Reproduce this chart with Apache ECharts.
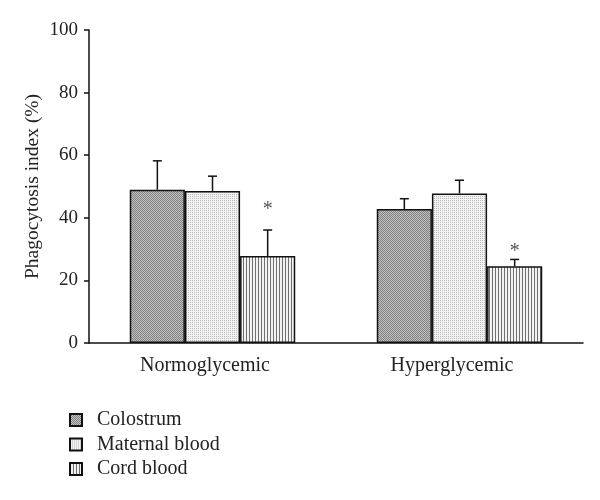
<!DOCTYPE html>
<html><head><meta charset="utf-8">
<script src="https://cdn.jsdelivr.net/npm/echarts@6/dist/echarts.min.js"></script>
<style>html,body{margin:0;padding:0;background:#fff}#c{width:600px;height:500px}</style>
</head><body><div id="c"></div>
<script>
var categories = ['Normoglycemic', 'Hyperglycemic'];
var seriesNames = ['Colostrum', 'Maternal blood', 'Cord blood'];
var colostrum = [49.0, 42.8];
var maternal = [48.6, 47.8];
var cord = [27.8, 24.5];
var colostrumErr = [9.2, 3.3];
var maternalErr = [4.7, 4.2];
var cordErr = [8.3, 2.2];
var cordStars = ['*', '*'];
var cordStarY = [43.8, 30.4];
var yTicks = [0, 20, 40, 60, 80, 100];

function makePattern(kind) {
  var c = document.createElement('canvas');
  var ctx = c.getContext('2d');
  if (kind === 0) {
    c.width = 2; c.height = 2;
    ctx.fillStyle = '#c2c2c2'; ctx.fillRect(0, 0, 2, 2);
    ctx.fillStyle = '#808080';
    ctx.fillRect(0, 0, 1, 1); ctx.fillRect(1, 1, 1, 1);
  } else if (kind === 1) {
    c.width = 2; c.height = 2;
    ctx.fillStyle = '#f3f3f3'; ctx.fillRect(0, 0, 2, 2);
    ctx.fillStyle = '#b8b8b8';
    ctx.fillRect(0, 0, 1, 1);
  } else {
    c.width = 3; c.height = 3;
    ctx.fillStyle = '#f2f2f2'; ctx.fillRect(0, 0, 3, 3);
    ctx.fillStyle = '#707070'; ctx.fillRect(0, 0, 1, 3);
  }
  return { image: c, repeat: 'repeat' };
}

var FONT = 'Liberation Serif';
var chart = echarts.init(document.getElementById('c'), null, { renderer: 'canvas' });
var values = [colostrum, maternal, cord];
var errs = [colostrumErr, maternalErr, cordErr];
var GAP = 0.33;

function errSeries(idx) {
  return {
    type: 'custom',
    name: seriesNames[idx] + ' err',
    silent: true,
    z: 5,
    data: values[idx].map(function (v, i) { return [i, v, v + errs[idx][i], idx === 2 ? cordStarY[i] : 0]; }),
    renderItem: function (params, api) {
      var band = api.size([1, 0])[0];
      var bw = band * (1 - GAP) / 3;
      var base = api.coord([api.value(0), api.value(1)]);
      var top = api.coord([api.value(0), api.value(2)]);
      var x = base[0] + (idx - 1) * bw;
      var children = [
        { type: 'line', shape: { x1: x, y1: base[1], x2: x, y2: top[1] }, style: { stroke: '#111', lineWidth: 1.5 } },
        { type: 'line', shape: { x1: x - 4.5, y1: top[1], x2: x + 4.5, y2: top[1] }, style: { stroke: '#111', lineWidth: 1.5 } }
      ];
      if (idx === 2 && cordStars[params.dataIndex]) {
        var sp = api.coord([api.value(0), api.value(3)]);
        children.push({ type: 'text', style: { text: cordStars[params.dataIndex], x: x, y: sp[1] + 4, textAlign: 'center', textVerticalAlign: 'middle', font: '20px "' + FONT + '"', fill: '#555' } });
      }
      return { type: 'group', children: children };
    }
  };
}

var series = [];
for (var s = 0; s < 3; s++) {
  series.push({
    type: 'bar', name: seriesNames[s], data: values[s],
    barGap: 0, barCategoryGap: (GAP * 100) + '%',
    itemStyle: { color: makePattern(s), borderColor: '#111', borderWidth: 1.5 },
    silent: true
  });
}
for (var s2 = 0; s2 < 3; s2++) series.push(errSeries(s2));

chart.setOption({
  animation: false,
  backgroundColor: '#fff',
  grid: { left: 89, right: 17, top: 30, bottom: 157 },
  legend: {
    data: seriesNames, orient: 'vertical', left: 64, top: 405,
    itemWidth: 12, itemHeight: 12, itemGap: 4.5,
    icon: 'rect',
    textStyle: { fontFamily: FONT, fontSize: 20, color: '#222', padding: [0, 0, 0, 10] }
  },
  xAxis: {
    type: 'category', data: categories,
    axisLine: { lineStyle: { color: '#111', width: 1.5 } },
    axisTick: { show: false },
    axisLabel: { fontFamily: FONT, fontSize: 20, color: '#222', margin: 13, padding: [0, 15, 0, 0] }
  },
  yAxis: {
    type: 'value', min: yTicks[0], max: yTicks[yTicks.length - 1], interval: 20,
    name: 'Phagocytosis index (%)', nameLocation: 'middle', nameGap: 46,
    nameMoveOverlap: false,
    nameTextStyle: { fontFamily: FONT, fontSize: 19.5, color: '#222' },
    axisLine: { show: true, lineStyle: { color: '#111', width: 1.5 } },
    axisTick: { show: true, inside: false, length: 5, lineStyle: { color: '#111', width: 1.5 } },
    axisLabel: { fontFamily: FONT, fontSize: 19, color: '#222', margin: 11 },
    splitLine: { show: false }
  },
  series: series
});
</script></body></html>
